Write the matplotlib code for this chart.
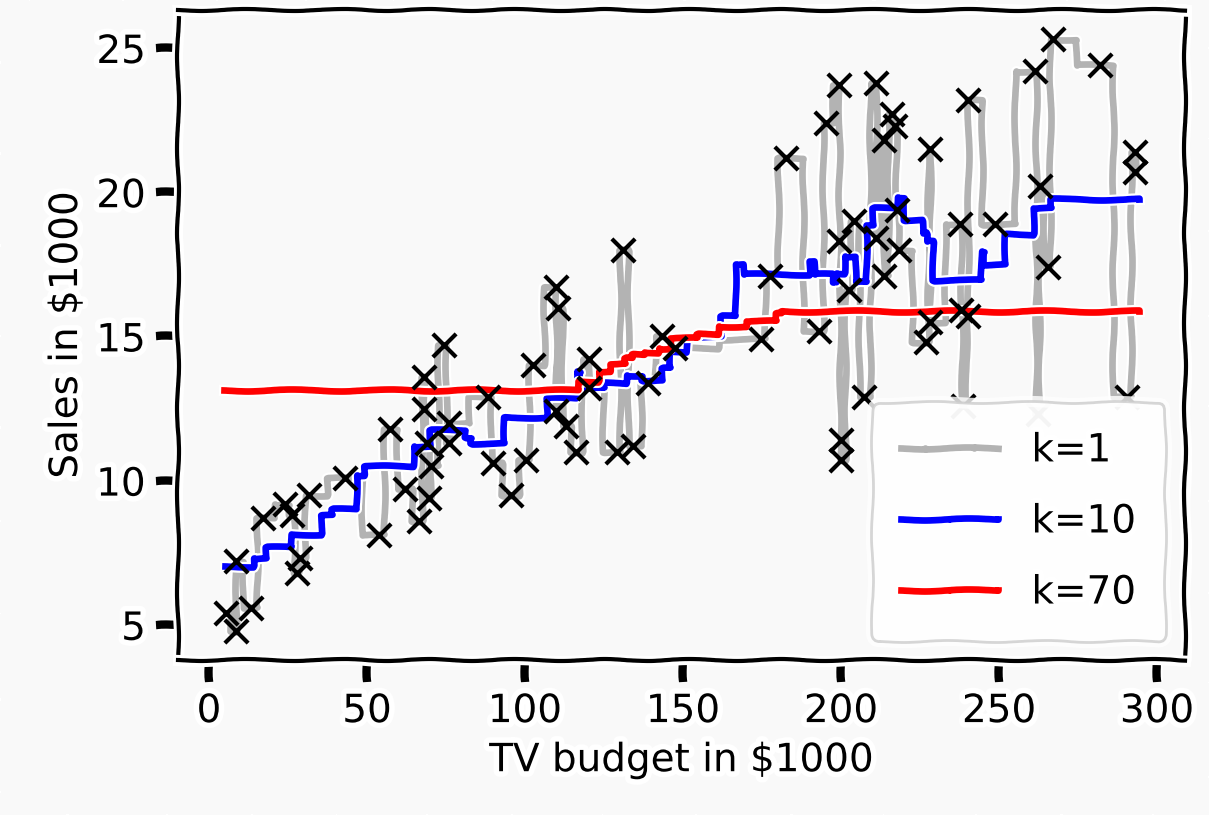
import matplotlib
matplotlib.use("Agg")
import matplotlib.pyplot as plt

# Training points (TV budget, Sales), sorted by TV budget
tv = [5.3, 8.5, 8.5, 13.2, 17.0, 24.2, 26.4, 27.7, 28.9, 31.8, 43.1, 53.8, 57.2,
      61.9, 66.4, 68.2, 68.2, 68.9, 69.5, 70.4, 74.5, 75.8, 76.1, 88.4, 89.9,
      95.6, 100.3, 102.5, 109.7, 109.7, 110.4, 112.9, 116.0, 120.1, 120.1,
      129.2, 131.1, 134.3, 139.0, 143.4, 147.5, 174.8, 177.4, 182.7, 193.0,
      195.3, 199.4, 199.4, 200.0, 200.0, 202.5, 204.0, 207.2, 211.0, 211.0,
      213.5, 213.5, 216.0, 217.0, 217.6, 218.2, 227.0, 228.3, 228.3, 237.7,
      238.0, 238.7, 240.3, 240.3, 248.7, 261.3, 262.3, 262.9, 265.4, 267.0,
      281.8, 290.6, 293.1, 293.1]
sales = [5.4, 4.8, 7.2, 5.6, 8.7, 9.2, 8.8, 6.8, 7.3, 9.5, 10.1, 8.1, 11.8,
         9.7, 8.6, 13.6, 12.5, 11.3, 9.4, 10.5, 14.7, 11.3, 12.0, 12.9, 10.6,
         9.5, 10.7, 14.0, 16.7, 12.4, 16.0, 11.9, 11.0, 14.2, 13.2,
         11.0, 18.0, 11.2, 13.4, 15.0, 14.6, 14.9, 17.1, 21.2, 15.2,
         22.4, 23.7, 18.3, 11.4, 10.7, 16.6, 19.0, 12.9, 23.8, 18.4,
         21.8, 17.1, 22.7, 22.3, 19.4, 18.0, 14.8, 21.5, 15.5, 18.9,
         15.9, 12.6, 15.7, 23.2, 18.9, 24.2, 12.3, 20.2, 17.4, 25.3,
         24.4, 12.9, 21.4, 20.7]

# k=10 prediction (step breakpoints and levels)
k10_x = [5.0, 14.0, 18.0, 26.0, 35.5, 39.0, 46.5, 49.0, 64.5, 70.0, 81.0, 83.0,
         93.5, 107.0, 116.0, 117.5, 125.0, 132.0, 137.0, 143.5, 146.0, 151.0,
         162.0, 166.5, 169.0, 190.0, 191.5, 197.0, 198.5, 201.0, 204.5, 208.0,
         210.0, 217.6, 220.0, 225.5, 227.0, 229.0, 244.3, 245.3, 252.0, 260.7,
         266.4, 294.3]
k10_y = [7.05, 7.3, 7.7, 8.15, 8.8, 9.0, 10.2, 10.5, 11.2, 11.75, 11.5, 11.3,
         12.2, 12.85, 13.8, 13.2, 13.4, 13.65, 13.5, 13.9, 14.45, 15.0,
         15.7, 17.5, 17.15, 17.6, 17.15, 16.9, 17.2, 17.8, 16.9, 18.85,
         19.45, 19.85, 19.05, 18.6, 18.3, 16.95, 17.95, 17.5, 18.55, 19.45,
         19.75, 19.75]

# k=70 prediction (step breakpoints and levels)
k70_x = [4.6, 116.7, 123.0, 127.0, 131.5, 134.0, 137.5, 142.0, 146.0, 154.5,
         161.0, 170.0, 179.5, 181.0, 294.3]
k70_y = [13.14, 13.47, 13.8, 14.05, 14.25, 14.38, 14.45, 14.6, 14.95, 15.1,
         15.35, 15.52, 15.8, 15.87, 15.87]

bg = "#f9f9f9"

with plt.xkcd():
    plt.rcParams["font.family"] = ["DejaVu Sans"]
    fig, ax = plt.subplots(figsize=(6.045, 4.075), dpi=200)
    fig.patch.set_facecolor(bg)
    ax.set_facecolor(bg)
    fig.subplots_adjust(left=0.147, right=0.98, bottom=0.19, top=0.988)

    ax.plot(tv, sales, drawstyle="steps-mid", color="#b3b3b3", lw=2.4,
            label="k=1", zorder=2)
    ax.plot(k10_x, k10_y, drawstyle="steps-post", color="blue", lw=2.4,
            label="k=10", zorder=3)
    ax.plot(k70_x, k70_y, drawstyle="steps-post", color="red", lw=2.4,
            label="k=70", zorder=4)
    ax.scatter(tv, sales, marker="x", color="k", s=70, lw=1.5, zorder=4.5)

    ax.set_xticks([0, 50, 100, 150, 200, 250, 300])
    ax.set_yticks([5, 10, 15, 20, 25])
    ax.set_xlabel("TV budget in $1000")
    ax.set_ylabel("Sales in $1000")
    leg = ax.legend(loc="lower right", handlelength=2.5, labelspacing=0.85,
                    borderpad=0.75, handletextpad=0.85)
    leg.set_zorder(10)

    fig.savefig("out.png", dpi=200, facecolor=bg)
